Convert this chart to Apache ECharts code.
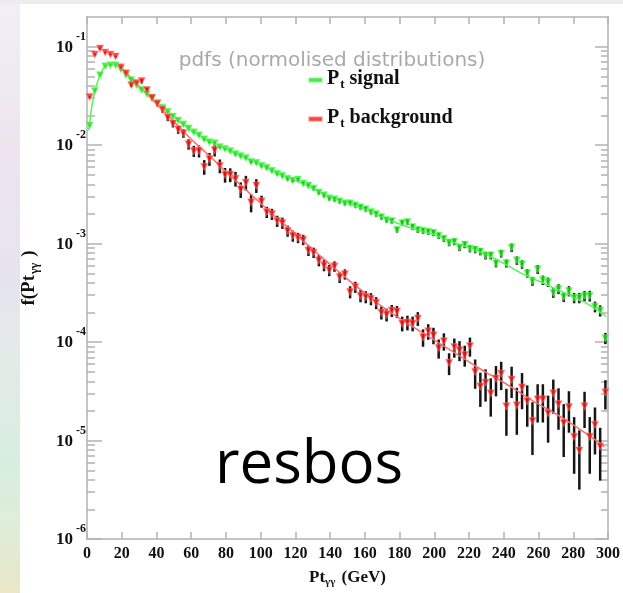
<!DOCTYPE html>
<html>
<head>
<meta charset="utf-8">
<script src="https://cdn.jsdelivr.net/npm/echarts@6/dist/echarts.min.js"></script>
<style>
  html, body { margin: 0; padding: 0; background: #ffffff; }
  #chart { width: 623px; height: 593px; }
</style>
</head>
<body>
<div id="chart"></div>
<script>
// Bin centres of the Pt(gamma gamma) histograms, GeV (3 GeV bins)
const binCentres = [
  1.5, 4.5, 7.5, 10.5, 13.5, 16.5, 19.5, 22.5, 25.5, 28.5,
  31.5, 34.5, 37.5, 40.5, 43.5, 46.5, 49.5, 52.5, 55.5, 58.5,
  61.5, 64.5, 67.5, 70.5, 73.5, 76.5, 79.5, 82.5, 85.5, 88.5,
  91.5, 94.5, 97.5, 100.5, 103.5, 106.5, 109.5, 112.5, 115.5, 118.5,
  121.5, 124.5, 127.5, 130.5, 133.5, 136.5, 139.5, 142.5, 145.5, 148.5,
  151.5, 154.5, 157.5, 160.5, 163.5, 166.5, 169.5, 172.5, 175.5, 178.5,
  181.5, 184.5, 187.5, 190.5, 193.5, 196.5, 199.5, 202.5, 205.5, 208.5,
  211.5, 214.5, 217.5, 220.5, 223.5, 226.5, 229.5, 232.5, 235.5, 238.5,
  241.5, 244.5, 247.5, 250.5, 253.5, 256.5, 259.5, 262.5, 265.5, 268.5,
  271.5, 274.5, 277.5, 280.5, 283.5, 286.5, 289.5, 292.5, 295.5, 298.5
];

// Signal pdf, log10 of bin content
const sigLog10 = [
  -1.80, -1.45, -1.29, -1.20, -1.19, -1.19, -1.23, -1.29, -1.34, -1.39,
  -1.44, -1.48, -1.52, -1.57, -1.62, -1.66, -1.71, -1.75, -1.79, -1.83,
  -1.87, -1.90, -1.94, -1.97, -1.98, -2.02, -2.04, -2.06, -2.09, -2.11,
  -2.13, -2.17, -2.18, -2.21, -2.23, -2.26, -2.29, -2.31, -2.34, -2.36,
  -2.35, -2.39, -2.41, -2.44, -2.48, -2.51, -2.54, -2.55, -2.57, -2.59,
  -2.59, -2.61, -2.63, -2.65, -2.68, -2.70, -2.73, -2.76, -2.77, -2.86,
  -2.79, -2.78, -2.83, -2.86, -2.87, -2.88, -2.89, -2.92, -2.95, -2.99,
  -2.98, -3.04, -3.01, -3.05, -3.06, -3.08, -3.12, -3.12, -3.20, -3.10,
  -3.20, -3.04, -3.17, -3.21, -3.30, -3.38, -3.26, -3.37, -3.39, -3.50,
  -3.46, -3.54, -3.48, -3.55, -3.55, -3.53, -3.53, -3.64, -3.68, -3.96
];

// Relative statistical error of the signal bins
const sigRelErr = [
  0.01, 0.01, 0.01, 0.01, 0.01, 0.01, 0.01, 0.01, 0.01, 0.01,
  0.015, 0.015, 0.015, 0.015, 0.015, 0.02, 0.02, 0.02, 0.02, 0.02,
  0.02, 0.02, 0.025, 0.025, 0.025, 0.025, 0.025, 0.03, 0.03, 0.03,
  0.03, 0.03, 0.03, 0.035, 0.035, 0.035, 0.035, 0.04, 0.04, 0.04,
  0.04, 0.04, 0.045, 0.045, 0.045, 0.045, 0.05, 0.05, 0.05, 0.05,
  0.05, 0.055, 0.055, 0.055, 0.055, 0.06, 0.06, 0.06, 0.06, 0.065,
  0.065, 0.065, 0.07, 0.07, 0.07, 0.07, 0.075, 0.075, 0.075, 0.08,
  0.08, 0.08, 0.08, 0.085, 0.085, 0.085, 0.09, 0.09, 0.09, 0.09,
  0.095, 0.10, 0.10, 0.10, 0.10, 0.105, 0.105, 0.11, 0.11, 0.11,
  0.115, 0.115, 0.12, 0.12, 0.12, 0.12, 0.125, 0.125, 0.13, 0.13
];

// Background pdf, log10 of bin content
const bgLog10 = [
  -1.51, -1.08, -1.02, -1.06, -1.08, -1.10, -1.21, -1.27, -1.39, -1.37,
  -1.35, -1.44, -1.52, -1.58, -1.64, -1.72, -1.78, -1.84, -1.88, -1.99,
  -2.06, -2.06, -2.22, -2.14, -2.05, -2.21, -2.30, -2.30, -2.34, -2.45,
  -2.38, -2.58, -2.41, -2.57, -2.68, -2.70, -2.77, -2.79, -2.87, -2.92,
  -2.94, -2.96, -3.07, -3.09, -3.17, -3.22, -3.27, -3.23, -3.34, -3.31,
  -3.49, -3.44, -3.53, -3.54, -3.56, -3.60, -3.70, -3.72, -3.68, -3.69,
  -3.81, -3.80, -3.81, -3.76, -3.95, -3.89, -3.93, -4.06, -3.99, -4.21,
  -4.05, -4.08, -4.13, -4.04, -4.30, -4.45, -4.41, -4.52, -4.37, -4.32,
  -4.65, -4.38, -4.64, -4.46, -4.60, -4.80, -4.58, -4.58, -4.72, -4.52,
  -4.63, -4.82, -4.66, -4.96, -5.10, -4.65, -4.96, -4.84, -5.06, -4.51
];

// Relative statistical error of the background bins
const bgRelErr = [
  0.02, 0.02, 0.02, 0.02, 0.02, 0.02, 0.03, 0.03, 0.04, 0.04,
  0.05, 0.05, 0.06, 0.06, 0.07, 0.08, 0.09, 0.10, 0.10, 0.12,
  0.13, 0.14, 0.17, 0.15, 0.14, 0.16, 0.17, 0.16, 0.17, 0.18,
  0.17, 0.21, 0.16, 0.14, 0.13, 0.13, 0.13, 0.13, 0.13, 0.13,
  0.12, 0.12, 0.12, 0.12, 0.13, 0.13, 0.13, 0.12, 0.13, 0.12,
  0.14, 0.13, 0.14, 0.14, 0.14, 0.14, 0.15, 0.15, 0.14, 0.14,
  0.17, 0.17, 0.17, 0.16, 0.20, 0.18, 0.19, 0.22, 0.20, 0.25,
  0.22, 0.23, 0.24, 0.22, 0.33, 0.38, 0.36, 0.42, 0.34, 0.32,
  0.50, 0.35, 0.50, 0.40, 0.45, 0.55, 0.42, 0.42, 0.50, 0.38,
  0.45, 0.55, 0.45, 0.58, 0.60, 0.40, 0.58, 0.50, 0.55, 0.33
];

// Smooth parametrisations overlaid on the histograms (x in GeV, log10 f)
const sigFitX = [1, 3, 5, 7.5, 10, 13, 16, 20, 25, 30, 35, 40, 50, 60, 70, 80, 90, 100,
                 110, 120, 130, 140, 150, 160, 170, 180, 190, 200, 210, 220, 230, 240,
                 250, 260, 270, 280, 290, 299];
const sigFitLog10 = [-1.85, -1.58, -1.42, -1.29, -1.21, -1.185, -1.19, -1.23, -1.33, -1.42,
                     -1.49, -1.56, -1.71, -1.85, -1.96, -2.04, -2.12, -2.20,
                     -2.29, -2.36, -2.44, -2.53, -2.59, -2.65, -2.73, -2.80, -2.86, -2.91,
                     -2.98, -3.04, -3.11, -3.20, -3.30, -3.38, -3.46, -3.54, -3.63, -3.74];
const bgFitX = [20, 30, 40, 50, 60, 70, 80, 90, 100, 110, 120, 130, 140, 150, 160, 170,
                180, 190, 200, 210, 220, 230, 240, 250, 260, 270, 280, 290, 298];
const bgFitLog10 = [-1.22, -1.40, -1.58, -1.76, -1.94, -2.10, -2.27, -2.43, -2.59, -2.75,
                    -2.90, -3.06, -3.21, -3.36, -3.50, -3.64, -3.76, -3.87, -3.98, -4.09,
                    -4.20, -4.31, -4.41, -4.52, -4.63, -4.73, -4.84, -4.96, -5.06];

// Axis decades and x tick step
const yDecadeExps = [-6, -5, -4, -3, -2, -1];
const yMin = 1e-6, yMax = 0.2;
const xMin = 0, xMax = 300, xStep = 20;

const pow10 = e => Math.pow(10, e);
const points = (xs, logs) => xs.map((x, i) => [x, pow10(logs[i])]);
const errorBars = (xs, logs, rel) => xs.map((x, i) => {
  const v = pow10(logs[i]);
  return [x, v * Math.max(1 - rel[i], 0.02), v * (1 + rel[i])];
});

const decadeValues = yDecadeExps.map(pow10);
const minorValues = [];
yDecadeExps.forEach(e => {
  for (let m = 2; m <= 9; m++) {
    const v = m * pow10(e);
    if (v < yMax) minorValues.push(v);
  }
});

const frameColor = '#b2b2b2';
const serif = 'Liberation Serif';

function errorBarItem(params, api) {
  const x = api.value(0);
  const top = api.coord([x, api.value(2)]);
  const bottom = api.coord([x, api.value(1)]);
  return {
    type: 'line',
    shape: { x1: top[0], y1: top[1], x2: bottom[0], y2: bottom[1] },
    style: { stroke: '#151515', lineWidth: 2.5 }
  };
}

function yAxisDef(position, values, length, withLabels) {
  return {
    type: 'log',
    logBase: 10,
    min: yMin,
    max: yMax,
    position: position,
    axisLine: { show: withLabels, lineStyle: { color: frameColor, width: 1.5 } },
    axisTick: { show: true, inside: true, length: length, customValues: values,
                lineStyle: { color: frameColor, width: 1.5 } },
    axisLabel: withLabels && position === 'left' ? {
      show: true,
      customValues: decadeValues,
      margin: 1,
      formatter: v => '{b|10}{e|' + Math.round(Math.log10(v)) + '}',
      rich: {
        b: { fontFamily: serif, fontWeight: 'bold', fontSize: 17, color: '#111',
             lineHeight: 18, verticalAlign: 'bottom' },
        e: { fontFamily: serif, fontWeight: 'bold', fontSize: 12, color: '#111',
             lineHeight: 12, padding: [0, 0, 13, 3], verticalAlign: 'bottom' }
      }
    } : { show: false },
    splitLine: { show: false },
    minorTick: { show: false }
  };
}

const chart = echarts.init(document.getElementById('chart'), null, { renderer: 'canvas' });

chart.setOption({
  backgroundColor: '#ffffff',
  animation: false,
  graphic: [
    { type: 'rect', left: 0, top: 0, z: -10, silent: true,
      shape: { width: 623, height: 4 }, style: { fill: '#ececec' } },
    { type: 'rect', left: 0, top: 4, z: -10, silent: true,
      shape: { width: 20, height: 589 },
      style: {
        fill: new echarts.graphic.LinearGradient(0, 0, 0, 1, [
          { offset: 0.0, color: '#f1eff5' },
          { offset: 0.25, color: '#ede4ee' },
          { offset: 0.45, color: '#e6e3f0' },
          { offset: 0.62, color: '#e2ebe6' },
          { offset: 0.78, color: '#d7eedf' },
          { offset: 0.9, color: '#dfedd6' },
          { offset: 1.0, color: '#eae6c8' }
        ])
      } },
    { type: 'text', left: 215, top: 436, z: 10, silent: true,
      style: { text: 'resbos', font: '60px "Open Sans"', fill: '#000000' } }
  ],
  title: {
    text: 'pdfs (normolised distributions)',
    left: 327,
    top: 46,
    textAlign: 'center',
    textStyle: { fontFamily: 'DejaVu Sans', fontWeight: 'normal', fontSize: 20, color: '#a9a9a9' }
  },
  legend: {
    data: ['Pt signal', 'Pt background'],
    orient: 'vertical',
    left: 308,
    top: 67,
    padding: 0,
    itemGap: 15,
    itemWidth: 13,
    itemHeight: 4,
    icon: 'rect',
    formatter: name => '{p|P}{t|t}{n|' + name.slice(2) + '}',
    textStyle: {
      rich: {
        p: { fontFamily: serif, fontWeight: 'bold', fontSize: 20, color: '#111',
             lineHeight: 22, verticalAlign: 'top' },
        t: { fontFamily: serif, fontWeight: 'bold', fontSize: 13, color: '#111',
             lineHeight: 13, padding: [11, 0, 0, 1], verticalAlign: 'bottom' },
        n: { fontFamily: serif, fontWeight: 'bold', fontSize: 20, color: '#111',
             lineHeight: 22, verticalAlign: 'top' }
      }
    }
  },
  grid: { left: 87, right: 14, top: 17, bottom: 52, containLabel: false },
  xAxis: [
    {
      type: 'value', min: xMin, max: xMax, interval: xStep, position: 'bottom',
      axisLine: { show: true, lineStyle: { color: frameColor, width: 1.5 } },
      axisTick: { show: true, inside: true, length: 7, lineStyle: { color: frameColor, width: 1.5 } },
      axisLabel: { margin: 7, fontFamily: serif, fontWeight: 'bold', fontSize: 16, color: '#111',
                   showMinLabel: true, showMaxLabel: true },
      splitLine: { show: false },
      name: '{a|Pt}{s|γγ}{a| (GeV)}',
      nameLocation: 'middle',
      nameGap: 27,
      nameTextStyle: {
        rich: {
          a: { fontFamily: serif, fontWeight: 'bold', fontSize: 17, color: '#111',
               lineHeight: 19, verticalAlign: 'top' },
          s: { fontFamily: serif, fontWeight: 'bold', fontSize: 11, color: '#111',
               lineHeight: 11, padding: [10, 2, 0, 0], verticalAlign: 'bottom' }
        }
      }
    },
    {
      type: 'value', min: xMin, max: xMax, interval: xStep, position: 'top',
      axisLine: { show: true, lineStyle: { color: frameColor, width: 1.5 } },
      axisTick: { show: true, inside: true, length: 7, lineStyle: { color: frameColor, width: 1.5 } },
      axisLabel: { show: false },
      splitLine: { show: false }
    }
  ],
  yAxis: [
    Object.assign(yAxisDef('left', decadeValues, 15, true), {
      name: '{a|f(Pt}{s|γγ}{a|)}',
      nameLocation: 'middle',
      nameGap: 46,
      nameTextStyle: {
        rich: {
          a: { fontFamily: serif, fontWeight: 'bold', fontSize: 19, color: '#111',
               lineHeight: 21, verticalAlign: 'top' },
          s: { fontFamily: serif, fontWeight: 'bold', fontSize: 12, color: '#111',
               lineHeight: 12, padding: [11, 6, 0, 1], verticalAlign: 'bottom' }
        }
      }
    }),
    yAxisDef('left', minorValues, 8, false),
    yAxisDef('right', decadeValues, 13, true),
    yAxisDef('right', minorValues, 7, false)
  ],
  series: [
    {
      name: 'signal errors', type: 'custom', xAxisIndex: 0, yAxisIndex: 0,
      renderItem: errorBarItem, encode: { x: 0, y: [1, 2] },
      data: errorBars(binCentres, sigLog10, sigRelErr), z: 2, silent: true
    },
    {
      name: 'background errors', type: 'custom', xAxisIndex: 0, yAxisIndex: 0,
      renderItem: errorBarItem, encode: { x: 0, y: [1, 2] },
      data: errorBars(binCentres, bgLog10, bgRelErr), z: 2, silent: true
    },
    {
      name: 'signal fit', type: 'line', xAxisIndex: 0, yAxisIndex: 0,
      data: points(sigFitX, sigFitLog10), smooth: 0.3, showSymbol: false,
      lineStyle: { color: '#5cf05c', width: 1.5 }, z: 3, silent: true
    },
    {
      name: 'background fit', type: 'line', xAxisIndex: 0, yAxisIndex: 0,
      data: points(bgFitX, bgFitLog10), smooth: 0.3, showSymbol: false,
      lineStyle: { color: '#ff6b6b', width: 1.5 }, z: 3, silent: true
    },
    {
      name: 'Pt signal', type: 'scatter', xAxisIndex: 0, yAxisIndex: 0,
      data: points(binCentres, sigLog10),
      symbol: 'triangle', symbolRotate: 180, symbolSize: 7,
      itemStyle: { color: '#1ee61e', borderColor: 'rgba(120,255,120,0.55)', borderWidth: 1.2 },
      z: 4
    },
    {
      name: 'Pt background', type: 'scatter', xAxisIndex: 0, yAxisIndex: 0,
      data: points(binCentres, bgLog10),
      symbol: 'triangle', symbolRotate: 180, symbolSize: 7,
      itemStyle: { color: '#ff1414', borderColor: 'rgba(255,130,130,0.55)', borderWidth: 1.2 },
      z: 4
    }
  ]
});
</script>
</body>
</html>
